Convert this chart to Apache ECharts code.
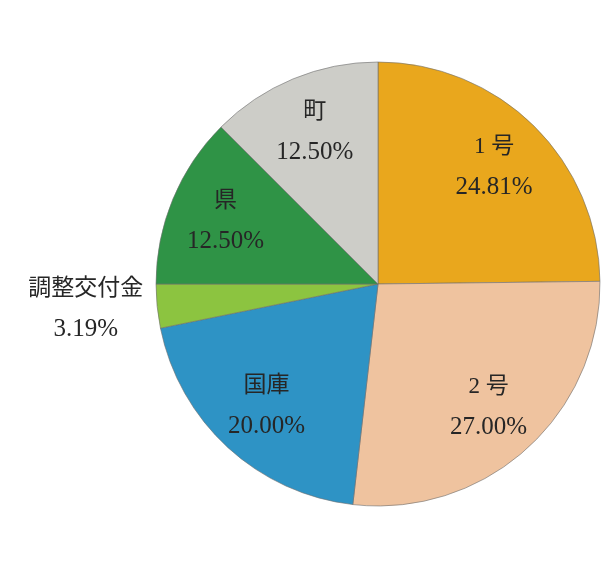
<!DOCTYPE html>
<html>
<head>
<meta charset="utf-8">
<script src="https://cdn.jsdelivr.net/npm/echarts@6/dist/echarts.min.js"></script>
<style>
  html, body { margin: 0; padding: 0; background: #fff; }
  #chart { width: 605px; height: 573px; }
</style>
</head>
<body>
<div id="chart"></div>
<script>
const categories = ['1 号', '2 号', '国庫', '調整交付金', '県', '町'];
const shares = [24.81, 27.0, 20.0, 3.19, 12.5, 12.5];
const colors = ['#e9a71d', '#efc39f', '#2e93c5', '#8cc440', '#2f9346', '#cdcdc8'];

const chart = echarts.init(document.getElementById('chart'));

const font = '"Liberation Serif", "Noto Sans CJK JP", serif';
const center = [378, 284];
const R = 222;

const baseData = categories.map((name, i) => ({
  name,
  value: shares[i],
  itemStyle: { color: colors[i] },
}));

// the small slice keeps its label outside, left of the pie
const labelData = categories.map((name, i) => {
  const item = { name, value: shares[i] };
  if (name === '調整交付金') {
    item.label = { offset: [-128, 8] };
  }
  return item;
});

chart.setOption({
  backgroundColor: '#fff',
  animation: false,
  series: [
    {
      type: 'pie',
      center,
      radius: [0, R],
      startAngle: 90,
      clockwise: true,
      silent: true,
      label: { show: false },
      labelLine: { show: false },
      itemStyle: { borderColor: 'rgba(110,110,110,0.6)', borderWidth: 1 },
      data: baseData,
    },
    {
      // transparent ring just to put the labels further out than r/2
      type: 'pie',
      center,
      radius: [R * 0.46, R],
      startAngle: 90,
      clockwise: true,
      silent: true,
      itemStyle: { color: 'transparent', borderWidth: 0 },
      labelLine: { show: false },
      label: {
        show: true,
        position: 'inside',
        fontFamily: font,
        color: '#262626',
        formatter: (p) => '{n|' + p.name + '}\n{p|' + p.value.toFixed(2) + '%}',
        rich: {
          n: { fontFamily: font, fontSize: 23, lineHeight: 42, color: '#262626' },
          p: { fontFamily: font, fontSize: 25, lineHeight: 40, color: '#262626' },
        },
      },
      data: labelData,
    },
  ],
});
</script>
</body>
</html>
